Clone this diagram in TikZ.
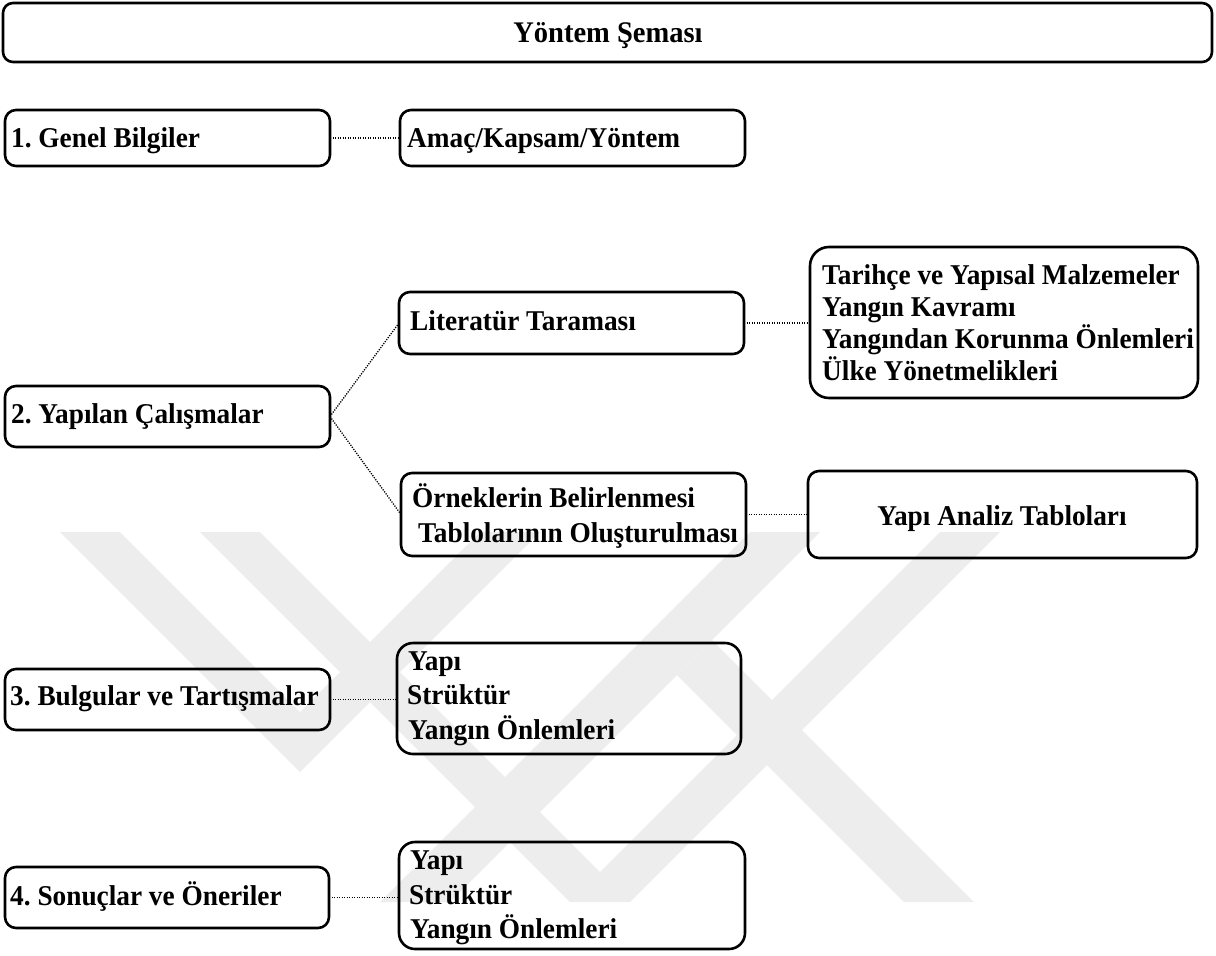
\documentclass[tikz,border=0pt]{standalone}
\usepackage{fontspec}
\setmainfont{Liberation Serif}
\frenchspacing
\newcommand\stretchtxt[1]{\scalebox{1}[1.05]{#1}}
\begin{document}
\begin{tikzpicture}[x=1pt,y=-1pt,
  box/.style={draw, line width=2.6pt, rounded corners=11pt, anchor=north west, inner sep=0pt, outer sep=0pt},
  bigbox/.style={box, rounded corners=19pt},
  txt/.style={anchor=base west, inner sep=0pt, font=\fontsize{27.3}{32}\selectfont\bfseries},
  conn/.style={line width=1.3pt, dash pattern=on 1.2pt off 1.3pt},
  wm/.style={fill=black!7, draw=none}]
\useasboundingbox (0,0) rectangle (1216,956);

% faint watermark
\fill[wm] (60,532) -- (300,772) -- (540,532) -- (480,532) -- (300,712) -- (120,532) -- cycle;
\fill[wm] (200,532) -- (570,902) -- (630,902) -- (1000,532) -- (940,532) -- (600,872) -- (260,532) -- cycle;
\fill[wm] (380,902) -- (450,902) -- (820,532) -- (750,532) -- cycle;
\fill[wm] (712,640) -- (974,902) -- (904,902) -- (677,675) -- cycle;

% title
\node[box, rounded corners=10pt, minimum width=1209pt, minimum height=59pt] (title) at (3,3) {};
\node[txt, anchor=base, font=\fontsize{28.5}{32}\selectfont\bfseries] (titletxt) at (608,42) {\stretchtxt{Yöntem Şeması}};

% row 1
\node[box, minimum width=325pt, minimum height=56pt] (g1) at (5,110) {};
\node[txt] (g1t) at (11,147) {\stretchtxt{1. Genel Bilgiler}};
\node[box, minimum width=345pt, minimum height=56pt] (a1) at (400,110) {};
\node[txt] (a1t) at (407,147) {\stretchtxt{Amaç/Kapsam/Yöntem}};

% row 2
\node[box, minimum width=325pt, minimum height=61pt] (g2) at (5,386) {};
\node[txt] (g2t) at (11,423) {\stretchtxt{2. Yapılan Çalışmalar}};
\node[box, minimum width=345pt, minimum height=62pt] (lit) at (399,292) {};
\node[txt] (litt) at (410,330) {\stretchtxt{Literatür Taraması}};
\node[box, minimum width=345pt, minimum height=83pt] (ork) at (401,473) {};
\node[txt] (orkt1) at (412,507) {\stretchtxt{Örneklerin Belirlenmesi}};
\node[txt] (orkt2) at (418,542) {\stretchtxt{Tablolarının Oluşturulması}};
\node[bigbox, minimum width=388pt, minimum height=151pt] (tar) at (810,247) {};
\node[txt] (tart1) at (822,284) {\stretchtxt{Tarihçe ve Yapısal Malzemeler}};
\node[txt] (tart2) at (822,316) {\stretchtxt{Yangın Kavramı}};
\node[txt] (tart3) at (822,348) {\stretchtxt{Yangından Korunma Önlemleri}};
\node[txt] (tart4) at (822,380) {\stretchtxt{Ülke Yönetmelikleri}};
\node[box, minimum width=389pt, minimum height=87pt] (yat) at (808,471) {};
\node[txt, anchor=base] (yatt) at (1002,525) {\stretchtxt{Yapı Analiz Tabloları}};

% row 3
\node[box, minimum width=325pt, minimum height=61pt] (g3) at (5,669) {};
\node[txt] (g3t) at (10,705) {\stretchtxt{3. Bulgular ve Tartışmalar}};
\node[bigbox, rounded corners=16pt, minimum width=344pt, minimum height=111pt] (d3) at (397,643) {};
\node[txt] (d3t1) at (408,670) {\stretchtxt{Yapı}};
\node[txt] (d3t2) at (407,704) {\stretchtxt{Strüktür}};
\node[txt] (d3t3) at (408,739) {\stretchtxt{Yangın Önlemleri}};

% row 4
\node[box, minimum width=324pt, minimum height=61pt] (g4) at (5,867) {};
\node[txt] (g4t) at (10,905) {\stretchtxt{4. Sonuçlar ve Öneriler}};
\node[bigbox, rounded corners=16pt, minimum width=346pt, minimum height=107pt] (d4) at (399,842) {};
\node[txt] (d4t1) at (410,869) {\stretchtxt{Yapı}};
\node[txt] (d4t2) at (409,904) {\stretchtxt{Strüktür}};
\node[txt] (d4t3) at (410,938) {\stretchtxt{Yangın Önlemleri}};

% connectors
\draw[conn] (g1.east) -- (a1.west);
\draw[conn] (g2.east) -- (lit.west);
\draw[conn] (g2.east) -- (ork.west);
\draw[conn] (lit.east) -- (lit.east -| tar.west);
\draw[conn] (ork.east) -- (yat.west);
\draw[conn] (g3.east) -- (g3.east -| d3.west);
\draw[conn] (g4.east) -- (g4.east -| d4.west);
\end{tikzpicture}
\end{document}
